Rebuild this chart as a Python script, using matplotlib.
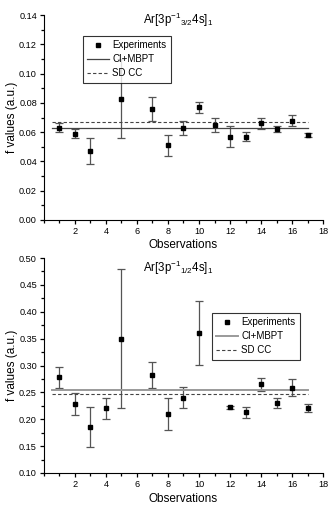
import matplotlib
matplotlib.use("Agg")
import matplotlib.pyplot as plt
from matplotlib.ticker import MultipleLocator
import numpy as np

plt.rcParams['font.family'] = ['Liberation Sans', 'DejaVu Sans']
plt.rcParams['mathtext.default'] = 'regular'

# observations (x=6 missing on top, 6 and 11 missing on bottom)
obs_top = [1, 2, 3, 5, 7, 8, 9, 10, 11, 12, 13, 14, 15, 16, 17]
f_top = [0.063, 0.059, 0.047, 0.083, 0.076, 0.051, 0.063, 0.077, 0.065,
         0.057, 0.057, 0.066, 0.062, 0.068, 0.058]
err_top = [0.003, 0.003, 0.009, 0.027, 0.008, 0.007, 0.005, 0.004, 0.005,
           0.007, 0.003, 0.0035, 0.002, 0.004, 0.0015]
ci_top = 0.063
sdcc_top = 0.067

obs_bot = [1, 2, 3, 4, 5, 7, 8, 9, 10, 12, 13, 14, 15, 16, 17]
f_bot = [0.278, 0.228, 0.186, 0.220, 0.350, 0.283, 0.210, 0.240, 0.361,
         0.222, 0.213, 0.265, 0.230, 0.259, 0.221]
err_bot = [0.020, 0.021, 0.037, 0.020, 0.130, 0.024, 0.030, 0.020, 0.060,
           0.003, 0.010, 0.012, 0.009, 0.015, 0.007]
ci_bot = 0.254
sdcc_bot = 0.247

line_x = [0.5, 17]


def draw(ax, obs, f, err, ci, sdcc, ylim, ymajor, title, title_y, leg_anchor,
         ci_color, ci_lw):
    ax.errorbar(obs, f, yerr=err, fmt='none', ecolor='#555555',
                elinewidth=0.9, capsize=3, capthick=0.9, zorder=2)
    h_exp, = ax.plot(obs, f, 's', color='black', ms=3.3, zorder=3,
                     label='Experiments')
    h_ci, = ax.plot(line_x, [ci, ci], color=ci_color, lw=ci_lw,
                    label='CI+MBPT')
    h_sd, = ax.plot(line_x, [sdcc, sdcc], color='#444444', lw=0.8, ls='--',
                    dashes=(3, 2), label='SD CC')
    ax.set_xlim(0, 18)
    ax.set_ylim(*ylim)
    ax.xaxis.set_minor_locator(MultipleLocator(1))
    ax.yaxis.set_major_locator(MultipleLocator(ymajor))
    ax.yaxis.set_minor_locator(MultipleLocator(ymajor / 2))
    ax.set_xticks(np.arange(2, 19, 2))
    ax.spines['top'].set_visible(False)
    ax.spines['right'].set_visible(False)
    ax.tick_params(which='both', direction='out', labelsize=6.6, width=0.9,
                   pad=2)
    ax.tick_params(which='major', length=3)
    ax.tick_params(which='minor', length=2)
    ax.set_xlabel('Observations', fontsize=8.5)
    ax.set_ylabel('f values (a.u.)', fontsize=8.5)
    ax.xaxis.set_label_coords(0.5, -0.095)
    ax.yaxis.set_label_coords(-0.092, 0.5)
    ax.text(0.48, title_y, title, transform=ax.transAxes, ha='center',
            va='center', fontsize=8.3)
    leg = ax.legend(handles=[h_exp, h_ci, h_sd], loc='upper left',
                    bbox_to_anchor=leg_anchor, fontsize=7, frameon=True,
                    fancybox=False, edgecolor='black', handlelength=2.3,
                    borderpad=0.45, labelspacing=0.4, handletextpad=0.3,
                    borderaxespad=0)
    leg.get_frame().set_linewidth(0.8)


fig = plt.figure(figsize=(3.3, 5.08), dpi=100)
ax1 = fig.add_axes([0.133, 0.567, 0.846, 0.403])
ax2 = fig.add_axes([0.133, 0.069, 0.846, 0.423])

draw(ax1, obs_top, f_top, err_top, ci_top, sdcc_top, (0, 0.14), 0.02,
     r'Ar[3p$^{-1}$$_{3/2}$4s]$_1$', 0.975, (0.139, 0.898), '#444444', 0.9)
draw(ax2, obs_bot, f_bot, err_bot, ci_bot, sdcc_bot, (0.10, 0.50), 0.05,
     r'Ar[3p$^{-1}$$_{1/2}$4s]$_1$', 0.955, (0.601, 0.744), '#9a9a9a', 1.4)

fig.savefig('out.png', dpi=100)
